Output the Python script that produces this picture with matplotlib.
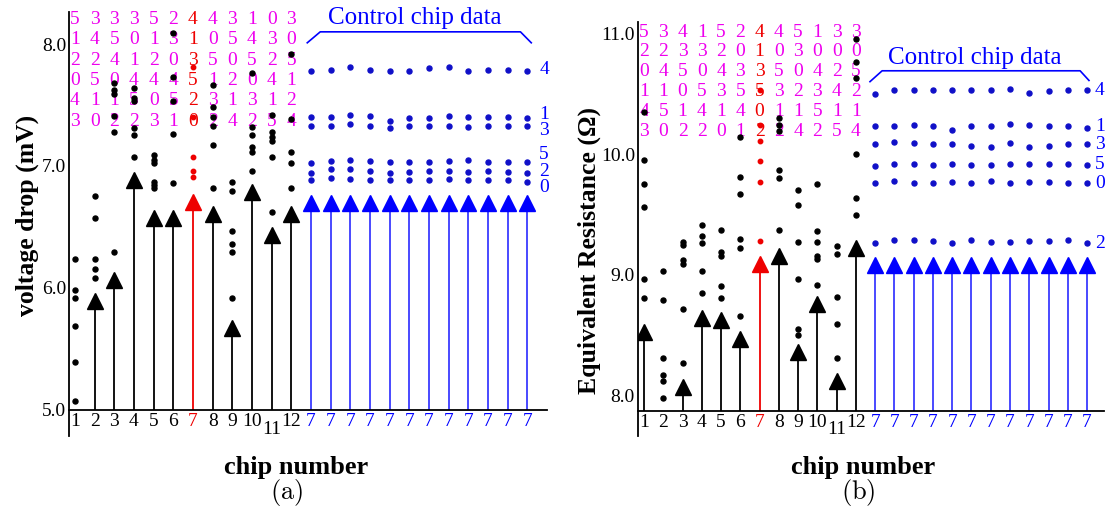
import matplotlib
matplotlib.use("Agg")
import matplotlib.pyplot as plt
from matplotlib.transforms import blended_transform_factory

plt.rcParams['font.family'] = ['Liberation Serif', 'DejaVu Serif']
plt.rcParams['mathtext.fontset'] = 'cm'

# ---------------- data ----------------
chip_labels = [str(i) for i in range(1, 13)] + ['7'] * 12
row_ids = ['4', '1', '3', '5', '2', '0']

# panel (a): voltage drop (mV)
a_stem = [None, 5.89, 6.06, 6.88, 6.57, 6.57, 6.70, 6.60, 5.67, 6.78, 6.43, 6.60] + [6.69] * 12
a_dots = [
    [6.23, 5.98, 5.91, 5.68, 5.39, 5.07],
    [6.75, 6.57, 6.23, 6.15, 6.08],
    [7.68, 7.62, 7.59, 7.41, 7.28, 6.29],
    [7.64, 7.56, 7.53, 7.31, 7.25, 7.07],
    [7.09, 7.05, 7.02, 6.87, 6.84, 6.82],
    [8.09, 7.73, 7.53, 7.26, 6.86],
    [7.81, 7.40, 7.07, 6.96, 6.91],
    [7.66, 7.48, 7.40, 7.33, 7.17, 6.82],
    [6.87, 6.79, 6.46, 6.36, 6.29, 5.91],
    [7.76, 7.32, 7.25, 7.15, 7.11, 6.96],
    [7.42, 7.28, 7.24, 7.20, 7.07, 6.62],
    [7.92, 7.38, 7.11, 7.02, 6.82],
]
a_ctrl_4 = [7.78, 7.79, 7.81, 7.79, 7.78, 7.78, 7.80, 7.81, 7.78, 7.79, 7.79, 7.78]
a_ctrl_1 = [7.40, 7.40, 7.42, 7.41, 7.37, 7.39, 7.39, 7.41, 7.40, 7.40, 7.40, 7.39]
a_ctrl_3 = [7.33, 7.33, 7.34, 7.33, 7.31, 7.33, 7.33, 7.33, 7.32, 7.33, 7.33, 7.33]
a_ctrl_5 = [7.02, 7.04, 7.05, 7.04, 7.03, 7.03, 7.03, 7.04, 7.05, 7.03, 7.03, 7.03]
a_ctrl_2 = [6.94, 6.97, 6.97, 6.96, 6.94, 6.95, 6.96, 6.96, 6.95, 6.96, 6.95, 6.94]
a_ctrl_0 = [6.88, 6.90, 6.89, 6.88, 6.88, 6.88, 6.88, 6.89, 6.88, 6.88, 6.88, 6.87]
a_row_label_y = [7.79, 7.42, 7.29, 7.09, 6.95, 6.82]
a_digits = [
    "533352443103",
    "145013105430",
    "224120350525",
    "050444512041",
    "411505231312",
    "302231024254",
]

# panel (b): equivalent resistance (Ohm)
b_stem = [8.53, None, 8.07, 8.64, 8.63, 8.47, 9.09, 9.16, 8.36, 8.76, 8.12, 9.22] + [9.08] * 12
b_dots = [
    [10.35, 9.95, 9.75, 9.56, 8.97, 8.81],
    [9.03, 8.79, 8.31, 8.17, 8.12, 7.98],
    [9.27, 9.25, 9.12, 9.09, 8.72, 8.27],
    [9.41, 9.32, 9.26, 9.03, 8.85],
    [9.37, 9.19, 9.16, 8.91, 8.81],
    [10.14, 9.81, 9.67, 9.30, 9.22, 8.66],
    [10.53, 10.24, 10.11, 9.94, 9.77, 9.28],
    [10.30, 10.24, 10.19, 9.87, 9.80, 9.37],
    [9.70, 9.58, 9.27, 8.97, 8.55, 8.50],
    [9.75, 9.36, 9.27, 9.16, 9.13, 8.92],
    [9.24, 9.17, 8.82, 8.59, 8.31],
    [10.95, 10.76, 10.63, 10.00, 9.64, 9.50],
]
b_ctrl_4 = [10.50, 10.53, 10.53, 10.53, 10.53, 10.53, 10.53, 10.54, 10.51, 10.52, 10.53, 10.53]
b_ctrl_1 = [10.23, 10.23, 10.24, 10.23, 10.20, 10.23, 10.23, 10.25, 10.24, 10.23, 10.23, 10.22]
b_ctrl_3 = [10.08, 10.10, 10.09, 10.08, 10.08, 10.07, 10.06, 10.09, 10.06, 10.07, 10.08, 10.08]
b_ctrl_5 = [9.90, 9.92, 9.92, 9.91, 9.92, 9.91, 9.91, 9.92, 9.92, 9.92, 9.92, 9.91]
b_ctrl_0 = [9.76, 9.78, 9.76, 9.76, 9.77, 9.76, 9.78, 9.76, 9.77, 9.77, 9.76, 9.76]
b_ctrl_2 = [9.26, 9.29, 9.29, 9.28, 9.26, 9.29, 9.27, 9.27, 9.28, 9.28, 9.29, 9.26]
b_row_ids = ['4', '1', '3', '5', '0', '2']
b_row_label_y = [10.53, 10.23, 10.08, 9.91, 9.76, 9.26]
b_digits = [
    "534152445133",
    "223320103000",
    "045043350425",
    "110535532342",
    "451414011511",
    "302201224254",
]

# ---------------- styling ----------------
MAG = '#ee00ee'
RED = '#ee0000'
BLUE = '#0000ff'
CBLUE = '#1010c8'
SBLUE = '#3a3aff'
FS = 14

fig = plt.figure(figsize=(11.06, 5.11), dpi=100)


def panel(rect, xlim, ylim, yticks, stems, dots, ctrl_rows, row_ids_, row_y,
          digits, dig_y0, dig_dy, bracket, text_xy, row_lab_x):
    ax = fig.add_axes(rect)
    ax.set_xlim(*xlim)
    ax.set_ylim(*ylim)
    for s in ['top', 'right']:
        ax.spines[s].set_visible(False)
    ax.spines['left'].set_visible(False)
    ax.spines['bottom'].set_linewidth(1.3)
    ax.plot([0, 0], [-0.065, 1], transform=ax.transAxes, color='black',
            lw=1.3, clip_on=False)
    ax.set_xticks([])
    ax.set_yticks(yticks)
    ax.set_yticklabels([f"{v:.1f}" for v in yticks], fontsize=FS)
    ax.tick_params(axis='y', length=0, pad=2)

    pos = list(range(1, 25))
    # magenta digit matrix
    for r, row in enumerate(digits):
        for c, d in enumerate(row):
            ax.text(pos[c], dig_y0 - r * dig_dy, d, fontsize=FS,
                    color=RED if c == 6 else MAG, ha='center', va='center')
    # stems
    for i, v in enumerate(stems):
        if v is None:
            continue
        col = 'black' if i < 12 else SBLUE
        mcol = 'black' if i < 12 else BLUE
        if i == 6:
            col = mcol = RED
        ax.vlines(pos[i], ylim[0], v, color=col, lw=1.3)
        ax.plot(pos[i], v, marker='^', ms=11, color=mcol, mec=mcol, zorder=4)
    # dots
    for i, vals in enumerate(dots):
        if i == 6:
            ax.plot([pos[i]] * len(vals), vals, 'o', ms=3.2, color=RED, zorder=5)
        else:
            ax.plot([pos[i]] * len(vals), vals, 'o', ms=3.6, color='black', zorder=5)
    for vals in ctrl_rows:
        ax.plot(pos[12:], vals, 'o', ms=3.6, color=CBLUE, zorder=5)
    for lab, yv in zip(row_ids_, row_y):
        ax.text(row_lab_x, yv, lab, fontsize=FS, color=BLUE, ha='left',
                va='center', clip_on=False)
    # bracket + text
    bx, by = bracket
    ax.plot(bx, by, color=BLUE, lw=1.2, clip_on=False)
    ax.text(text_xy[0], text_xy[1], 'Control chip data', fontsize=18,
            color=BLUE, ha='center', va='center')
    # x tick labels
    tr = blended_transform_factory(ax.transData, ax.transAxes)
    for i, lab in enumerate(chip_labels):
        col = 'black' if i < 12 else BLUE
        if i == 6:
            col = RED
        yy = -0.03 if lab != '11' or i >= 12 else -0.048
        ax.text(pos[i], yy, lab, fontsize=FS, color=col, ha='center',
                va='center', transform=tr, clip_on=False)
    return ax


# panel (a)
panel([69 / 1106, 1 - 410 / 511, (547 - 69) / 1106, (410 - 12) / 511],
      (0.695, 25.0), (4.993, 8.263), [5.0, 6.0, 7.0, 8.0],
      a_stem, a_dots,
      [a_ctrl_4, a_ctrl_1, a_ctrl_3, a_ctrl_5, a_ctrl_2, a_ctrl_0],
      row_ids, a_row_label_y, a_digits, 8.20, 0.167,
      ([12.81, 13.47, 23.65, 24.2], [8.01, 8.10, 8.10, 8.01]),
      (18.3, 8.215), 24.6)

# panel (b)
panel([637.7 / 1106, 1 - 411 / 511, (1104 - 637.7) / 1106, (411 - 22) / 511],
      (0.67, 24.88), (7.873, 11.094), [8.0, 9.0, 10.0, 11.0],
      b_stem, b_dots,
      [b_ctrl_4, b_ctrl_1, b_ctrl_3, b_ctrl_5, b_ctrl_0, b_ctrl_2],
      b_row_ids, b_row_label_y, b_digits, 11.01, 0.164,
      ([12.73, 13.36, 23.64, 24.1], [10.60, 10.69, 10.69, 10.61]),
      (18.19, 10.80), 24.4)

fig.text(27 / 1106, 1 - 215 / 511, 'voltage drop (mV)', rotation=90,
         fontsize=18.5, fontweight='bold', ha='center', va='center')
fig.text(589 / 1106, 1 - 250 / 511, 'Equivalent Resistance (Ω)', rotation=90,
         fontsize=18.5, fontweight='bold', ha='center', va='center')
fig.text(296 / 1106, 1 - 467 / 511, 'chip number', fontsize=19,
         fontweight='bold', ha='center', va='center')
fig.text(863 / 1106, 1 - 467 / 511, 'chip number', fontsize=19,
         fontweight='bold', ha='center', va='center')
fig.text(287 / 1106, 1 - 492 / 511, r'$\mathrm{(a)}$', fontsize=19,
         ha='center', va='center')
fig.text(858 / 1106, 1 - 492 / 511, r'$\mathrm{(b)}$', fontsize=19,
         ha='center', va='center')

fig.savefig('out.png', dpi=100)
